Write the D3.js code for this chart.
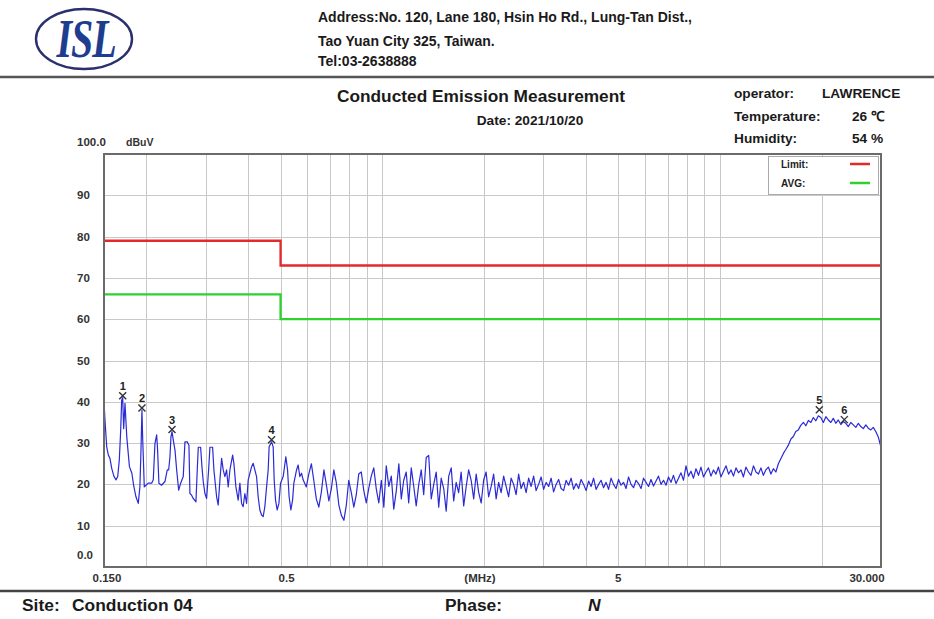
<!DOCTYPE html>
<html>
<head>
<meta charset="utf-8">
<script src="https://cdn.jsdelivr.net/npm/d3@7"></script>
<style>
body { margin: 0; background: #fff; }
svg { display: block; font-family: "Liberation Sans", Arial, sans-serif; }
.hdr { font-weight: bold; font-size: 14px; fill: #1a1a1a; }
.axlbl { font-weight: bold; font-size: 11.5px; fill: #333; }
.mk { font-weight: bold; font-size: 11px; fill: #222; }
</style>
</head>
<body>
<svg width="934" height="619"></svg>
<script>
var svg = d3.select("svg"),
    width = +svg.attr("width"),
    height = +svg.attr("height");

// axis ticks / labels
var yGrid = [10, 20, 30, 40, 50, 60, 70, 80, 90];
var yLabelVal = [0, 10, 20, 30, 40, 50, 60, 70, 80, 90, 100];
var yLabelText = ["0.0", "10", "20", "30", "40", "50", "60", "70", "80", "90", "100.0"];
var xGrid = [0.2, 0.3, 0.4, 0.5, 0.6, 0.7, 0.8, 0.9, 1, 2, 3, 4, 5, 6, 7, 8, 9, 10, 20];
var xLabelVal = [0.15, 0.5, 5, 30];
var xLabelText = ["0.150", "0.5", "5", "30.000"];

// limit lines (MHz, dBuV)
var limitFreq = [0.15, 0.5, 0.5, 30];
var limitQP = [79, 79, 73, 73];
var limitAVG = [66, 66, 60, 60];

// marked peaks
var markerNo = [1, 2, 3, 4, 5, 6];
var markerFreq = [0.1704, 0.1943, 0.2385, 0.4703, 19.70, 23.36];
var markerLevel = [41.0, 38.0, 32.8, 30.3, 37.6, 35.2];

// measured scan (MHz, dBuV)
var scanLow = [
  [0.1500, 40.0], [0.1510, 35.6], [0.1528, 29.1], [0.1545, 27.1], [0.1562, 26.3], [0.1581, 23.9],
  [0.1606, 21.9], [0.1628, 21.1], [0.1647, 21.9], [0.1665, 25.9], [0.1681, 33.2], [0.1692, 40.4],
  [0.1704, 41.0], [0.1715, 33.5], [0.1731, 39.6], [0.1752, 31.5], [0.1784, 24.3], [0.1814, 22.7],
  [0.1835, 19.9], [0.1865, 17.0], [0.1895, 15.4], [0.1916, 19.4], [0.1929, 27.5], [0.1943, 38.0],
  [0.1952, 31.5], [0.1961, 26.7], [0.1974, 19.4], [0.1997, 19.8], [0.2028, 20.3], [0.2076, 20.3],
  [0.2099, 21.1], [0.2123, 29.9], [0.2148, 32.0], [0.2162, 28.3], [0.2181, 20.3], [0.2221, 19.8],
  [0.2273, 20.7], [0.2309, 23.5], [0.2331, 23.5], [0.2352, 26.7], [0.2368, 31.5], [0.2385, 32.8],
  [0.2406, 30.7], [0.2434, 28.3], [0.2462, 23.5], [0.2496, 18.6], [0.2530, 20.3], [0.2575, 21.9],
  [0.2605, 30.3], [0.2646, 30.3], [0.2677, 29.5], [0.2695, 17.8], [0.2726, 17.4], [0.2756, 16.6],
  [0.2808, 15.8], [0.2833, 23.5], [0.2853, 29.0], [0.2899, 29.0], [0.2925, 24.3], [0.2951, 20.7],
  [0.2985, 17.8], [0.3020, 16.6], [0.3061, 23.5], [0.3089, 29.0], [0.3146, 29.0], [0.3174, 23.5],
  [0.3233, 17.0], [0.3268, 15.0], [0.3307, 21.1], [0.3345, 26.3], [0.3382, 23.5], [0.3421, 21.9],
  [0.3461, 23.5], [0.3499, 19.4], [0.3540, 23.5], [0.3606, 27.1], [0.3637, 25.1], [0.3687, 19.4],
  [0.3745, 16.2], [0.3789, 20.3], [0.3833, 15.4], [0.3875, 14.6], [0.3920, 17.8], [0.3966, 15.4],
  [0.4010, 21.1], [0.4104, 24.3], [0.4149, 25.1], [0.4196, 23.5], [0.4245, 21.9], [0.4292, 17.0],
  [0.4342, 13.8], [0.4393, 12.6], [0.4441, 12.2], [0.4492, 14.6], [0.4545, 19.4], [0.4595, 23.5],
  [0.4625, 29.1], [0.4703, 30.3], [0.4754, 29.1], [0.4787, 21.1], [0.4832, 16.2], [0.4885, 13.8],
  [0.4944, 15.4], [0.5000, 20.3], [0.5090, 21.9], [0.5184, 26.7], [0.5244, 23.5], [0.5301, 17.0],
  [0.5364, 13.8], [0.5427, 16.2], [0.5474, 20.3], [0.5576, 23.5], [0.5637, 24.7], [0.5703, 21.9],
  [0.5769, 22.7], [0.5832, 21.1]
];

var scanMid = [
  [0.596, 19.4], [0.606, 22.5], [0.617, 25.0], [0.627, 21.0], [0.638, 16.5], [0.649, 14.5],
  [0.660, 18.0], [0.672, 23.5], [0.683, 20.0], [0.695, 16.0], [0.707, 19.0], [0.719, 23.5],
  [0.731, 20.5], [0.744, 15.0], [0.757, 12.5], [0.770, 11.3], [0.783, 15.0], [0.796, 21.0],
  [0.810, 18.0], [0.824, 14.5], [0.838, 17.5], [0.852, 22.5], [0.867, 23.0], [0.882, 18.5],
  [0.897, 15.5], [0.912, 19.0], [0.928, 22.0], [0.944, 24.0], [0.960, 19.0], [0.977, 15.5],
  [0.994, 21.0], [1.011, 14.5], [1.028, 24.5], [1.046, 19.5], [1.064, 22.0], [1.082, 14.0],
  [1.101, 18.5], [1.120, 25.0], [1.139, 16.5], [1.158, 21.0], [1.178, 23.0], [1.198, 15.5],
  [1.219, 24.0], [1.240, 19.5], [1.261, 14.8], [1.283, 20.0], [1.305, 23.5], [1.327, 17.5],
  [1.350, 26.5], [1.373, 27.0], [1.397, 16.5], [1.421, 20.0], [1.445, 23.0], [1.470, 14.5],
  [1.495, 21.5], [1.521, 19.0], [1.547, 13.5], [1.574, 22.0], [1.601, 24.0], [1.628, 16.0],
  [1.656, 20.5], [1.684, 18.0], [1.713, 23.0], [1.743, 14.8], [1.773, 19.5], [1.803, 23.5],
  [1.834, 21.0], [1.866, 16.5], [1.898, 22.5], [1.931, 18.0], [1.964, 15.5], [1.997, 21.0],
  [2.031, 23.0], [2.066, 17.0], [2.102, 19.5], [2.138, 22.5], [2.175, 16.5], [2.212, 20.5],
  [2.250, 18.0], [2.289, 22.0], [2.328, 19.5], [2.368, 17.0], [2.409, 21.5], [2.450, 20.0],
  [2.492, 17.5], [2.535, 22.5], [2.578, 19.0], [2.623, 20.5], [2.668, 18.0], [2.714, 21.5],
  [2.760, 19.5], [2.808, 22.0], [2.856, 18.5], [2.905, 20.0], [2.955, 21.8], [3.006, 18.8],
  [3.058, 20.5], [3.110, 19.5], [3.164, 21.5], [3.218, 18.2], [3.273, 20.0], [3.330, 21.2],
  [3.387, 19.0], [3.445, 18.5], [3.504, 21.0], [3.564, 19.8], [3.626, 21.5], [3.688, 18.8],
  [3.752, 20.2], [3.816, 19.0], [3.881, 21.2], [3.948, 20.0], [4.016, 18.5], [4.085, 20.8],
  [4.155, 19.5], [4.226, 21.5], [4.299, 18.8], [4.373, 20.0], [4.448, 21.0], [4.524, 19.2],
  [4.602, 20.5], [4.681, 18.8], [4.761, 21.5], [4.843, 20.0], [4.926, 19.0], [5.011, 21.2],
  [5.097, 19.8]
];

var scanHigh = [
  [5.184, 20.5], [5.273, 19.0], [5.364, 21.8], [5.456, 20.0], [5.550, 19.2], [5.646, 21.0],
  [5.742, 20.2], [5.841, 19.0], [5.941, 21.5], [6.043, 20.5], [6.147, 19.5], [6.252, 21.2],
  [6.360, 19.6], [6.470, 20.8], [6.580, 22.0], [6.693, 20.0], [6.808, 21.0], [6.925, 19.8],
  [7.044, 21.8], [7.165, 20.5], [7.288, 22.2], [7.414, 20.2], [7.541, 21.5], [7.670, 22.8],
  [7.802, 21.0], [7.936, 24.5], [8.072, 22.0], [8.211, 23.2], [8.352, 21.5], [8.496, 23.8],
  [8.642, 22.2], [8.790, 24.2], [8.941, 21.8], [9.095, 23.0], [9.251, 24.0], [9.410, 22.0],
  [9.571, 23.5], [9.736, 22.5], [9.903, 24.2], [10.07, 21.8], [10.25, 23.2], [10.43, 24.5],
  [10.61, 22.5], [10.79, 23.5], [10.97, 22.0], [11.16, 24.0], [11.35, 22.8], [11.55, 23.5],
  [11.74, 21.8], [11.94, 24.2], [12.15, 23.0], [12.36, 22.2], [12.57, 24.5], [12.79, 23.0],
  [13.01, 22.5], [13.23, 24.0], [13.45, 22.2], [13.68, 23.5], [13.92, 24.2], [14.16, 22.5],
  [14.40, 23.8], [14.65, 23.0], [14.90, 25.0], [15.15, 26.2], [15.42, 27.5], [15.69, 28.5],
  [15.95, 29.5], [16.23, 31.0], [16.50, 31.6], [16.78, 32.8], [17.07, 33.2], [17.36, 34.3],
  [17.67, 35.0], [17.97, 34.2], [18.28, 35.5], [18.60, 35.0], [18.91, 36.2], [19.24, 35.4],
  [19.57, 36.6], [19.90, 36.2], [20.25, 35.0], [20.60, 36.4], [20.95, 35.6], [21.31, 35.0],
  [21.67, 36.0], [22.04, 34.8], [22.42, 35.6], [22.81, 34.5], [23.20, 35.2], [23.60, 34.8],
  [24.00, 34.0], [24.42, 35.0], [24.84, 34.4], [25.27, 33.8], [25.70, 34.8], [26.14, 34.0],
  [26.59, 33.5], [27.05, 34.4], [27.51, 33.6], [27.98, 33.2], [28.46, 33.8], [28.95, 32.8],
  [29.45, 31.5], [30.00, 29.0]
];

var x = d3.scaleLog().domain([0.15, 30]).range([104, 881]);
var y = d3.scaleLinear().domain([0, 100]).range([567, 154]);

svg.append("rect").attr("width", width).attr("height", height).attr("fill", "#fff");

// ---- header ----
var logo = svg.append("g");
logo.append("ellipse")
    .attr("cx", 84).attr("cy", 39).attr("rx", 48).attr("ry", 30)
    .attr("fill", "none").attr("stroke", "#2b2f6b").attr("stroke-width", 2.4);
logo.append("text")
    .attr("transform", "translate(86,57) scale(1,1.35)")
    .attr("text-anchor", "middle")
    .style("font-family", "'Liberation Serif', 'DejaVu Serif', serif")
    .style("font-weight", "bold").style("font-style", "italic")
    .style("font-size", "40px").style("letter-spacing", "-1px")
    .attr("fill", "#1f3d8f")
    .text("ISL");

var addr = ["Address:No. 120, Lane 180, Hsin Ho Rd., Lung-Tan Dist.,", "Tao Yuan City 325, Taiwan.", "Tel:03-2638888"];
svg.selectAll(".addr")
    .data(addr)
    .enter().append("text")
      .attr("class", "hdr addr")
      .attr("x", 318)
      .attr("y", function(d, i) { return [22, 46, 66][i]; })
      .text(function(d) { return d; });

svg.append("line")
    .attr("x1", 0).attr("x2", width).attr("y1", 77).attr("y2", 77)
    .attr("stroke", "#555").attr("stroke-width", 2.5);

svg.append("text").attr("class", "hdr").attr("x", 481).attr("y", 102)
    .attr("text-anchor", "middle").style("font-size", "17.3px")
    .text("Conducted Emission Measurement");
svg.append("text").attr("class", "hdr").attr("x", 530).attr("y", 125)
    .attr("text-anchor", "middle").style("font-size", "13.7px")
    .text("Date: 2021/10/20");

var info = [["operator:", "LAWRENCE"], ["Temperature:", "26 ℃"], ["Humidity:", "54 %"]];
var infoG = svg.selectAll(".info").data(info).enter().append("g")
    .attr("transform", function(d, i) { return "translate(0," + [98, 121, 143][i] + ")"; });
infoG.append("text").attr("class", "hdr").attr("x", 734).style("font-size", "13.7px")
    .text(function(d) { return d[0]; });
infoG.append("text").attr("class", "hdr").style("font-size", "13.7px")
    .attr("x", function(d, i) { return i == 0 ? 822 : 852; })
    .text(function(d) { return d[1]; });

// ---- plot ----
var plot = svg.append("g");

plot.selectAll(".hg")
    .data(yGrid)
    .enter().append("line")
      .attr("x1", x(0.15)).attr("x2", x(30))
      .attr("y1", function(d) { return Math.round(y(d)) + 0.5; })
      .attr("y2", function(d) { return Math.round(y(d)) + 0.5; })
      .attr("stroke", "#c9c9c9").attr("stroke-width", 1);

plot.selectAll(".vg")
    .data(xGrid)
    .enter().append("line")
      .attr("x1", function(d) { return Math.round(x(d)) + 0.5; })
      .attr("x2", function(d) { return Math.round(x(d)) + 0.5; })
      .attr("y1", y(100)).attr("y2", y(0))
      .attr("stroke", "#c9c9c9").attr("stroke-width", 1);

// legend box sits over the grid
var leg = plot.append("g");
leg.append("rect")
    .attr("x", 768.5).attr("y", 156.5).attr("width", 110).attr("height", 38)
    .attr("fill", "#fff").attr("stroke", "#aaa").attr("stroke-width", 1);
var legText = ["Limit:", "AVG:"];
var legColor = ["#e5282b", "#2fd12f"];
leg.selectAll("text").data(legText).enter().append("text")
    .attr("x", 781).attr("y", function(d, i) { return 168 + i * 19; })
    .style("font-size", "10px").style("font-weight", "bold").attr("fill", "#222")
    .text(function(d) { return d; });
leg.selectAll(".ll").data(legColor).enter().append("line")
    .attr("x1", 850).attr("x2", 870)
    .attr("y1", function(d, i) { return 164 + i * 19; })
    .attr("y2", function(d, i) { return 164 + i * 19; })
    .attr("stroke", function(d) { return d; }).attr("stroke-width", 2.5);

var limitLine = function(vals) {
  return d3.line()
      .x(function(d, i) { return x(limitFreq[i]); })
      .y(function(d) { return y(d); })(vals);
};
plot.append("path").attr("d", limitLine(limitQP))
    .attr("fill", "none").attr("stroke", "#e5282b").attr("stroke-width", 2.3);
plot.append("path").attr("d", limitLine(limitAVG))
    .attr("fill", "none").attr("stroke", "#2fd12f").attr("stroke-width", 2.3);

var scan = scanLow.concat(scanMid, scanHigh);
plot.append("path")
    .attr("d", d3.line()
        .x(function(d) { return x(d[0]); })
        .y(function(d) { return y(d[1]); })(scan))
    .attr("fill", "none").attr("stroke", "#2a2ad6").attr("stroke-width", 1.2)
    .attr("stroke-linejoin", "round");

// frame
plot.append("rect")
    .attr("x", x(0.15)).attr("y", y(100))
    .attr("width", x(30) - x(0.15)).attr("height", y(0) - y(100))
    .attr("fill", "none").attr("stroke", "#6b6b6b").attr("stroke-width", 2);

// markers
var mk = plot.selectAll(".mkg")
    .data(markerNo)
    .enter().append("g")
      .attr("transform", function(d, i) {
        return "translate(" + x(markerFreq[i]) + "," + (y(markerLevel[i]) - 2) + ")";
      });
mk.append("path")
    .attr("d", "M-3.5,-3.5L3.5,3.5M-3.5,3.5L3.5,-3.5")
    .attr("stroke", "#333").attr("stroke-width", 1.4);
mk.append("text").attr("class", "mk")
    .attr("y", -6).attr("text-anchor", "middle")
    .text(function(d) { return d; });

// axis labels
svg.selectAll(".yl")
    .data(yLabelVal)
    .enter().append("text")
      .attr("class", "axlbl")
      .attr("x", 77)
      .attr("y", function(d) { return y(d) + 4 + ((d == 0 || d == 100) ? -12 : 0); })
      .text(function(d, i) { return yLabelText[i]; });
svg.append("text").attr("class", "axlbl").attr("x", 126).attr("y", y(100) - 8)
    .style("font-size", "10.5px").text("dBuV");

svg.selectAll(".xl")
    .data(xLabelVal)
    .enter().append("text")
      .attr("class", "axlbl")
      .attr("x", function(d, i) { return x(d) + [3, 6, 0, -14][i]; })
      .attr("y", 582)
      .attr("text-anchor", "middle")
      .text(function(d, i) { return xLabelText[i]; });
svg.append("text").attr("class", "axlbl").attr("x", 480).attr("y", 582)
    .attr("text-anchor", "middle").text("(MHz)");

// ---- footer ----
svg.append("line")
    .attr("x1", 0).attr("x2", width).attr("y1", 591).attr("y2", 591)
    .attr("stroke", "#444").attr("stroke-width", 2.5);
var foot = [["Site:", 22], ["Conduction 04", 72], ["Phase:", 445]];
svg.selectAll(".ft").data(foot).enter().append("text")
    .attr("class", "hdr").attr("x", function(d) { return d[1]; }).attr("y", 611)
    .style("font-size", "17.4px").text(function(d) { return d[0]; });
svg.append("text").attr("class", "hdr").attr("x", 588).attr("y", 611)
    .style("font-size", "17.4px").style("font-style", "italic").attr("fill", "#1414e6")
    .text("N");
</script>
</body>
</html>
